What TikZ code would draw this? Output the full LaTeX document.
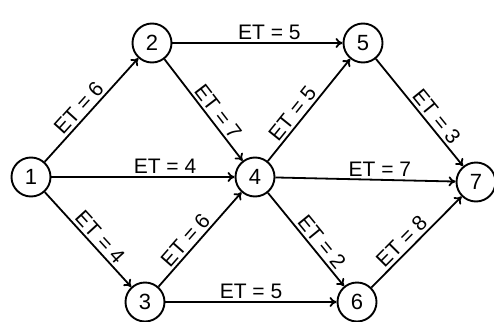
\documentclass[tikz,border=0pt]{standalone}
\usepackage{fontspec}
\setmainfont{Liberation Sans}
\usetikzlibrary{arrows.meta}
\begin{document}
\begin{tikzpicture}[x=1pt,y=-1pt,
  ev/.style={circle,draw,line width=1.9pt,minimum size=39pt,inner sep=0pt,font=\fontsize{22}{22}\selectfont},
  act/.style={line width=1.8pt,-{To[length=7pt,width=10pt]}},
  lab/.style={font=\fontsize{21}{21}\selectfont,inner sep=2.5pt}]
\useasboundingbox (0,0) rectangle (494,321);
\node[ev] (n1) at (31,177) {1};
\node[ev] (n2) at (152,43) {2};
\node[ev] (n3) at (145,302) {3};
\node[ev] (n4) at (255,177) {4};
\node[ev] (n5) at (363,43) {5};
\node[ev] (n6) at (357,302) {6};
\node[ev] (n7) at (476,182) {7};
\draw[act] (n1) -- node[lab,sloped,above,pos=0.45] {ET = 6} (n2);
\draw[act] (n1) -- node[lab,above,pos=0.62] {ET = 4} (n4);
\draw[act] (n1) -- node[lab,sloped,above,pos=0.55] {ET = 4} (n3);
\draw[act] (n2) -- node[lab,above,pos=0.57] {ET = 5} (n5);
\draw[act] (n2) -- node[lab,sloped,above,pos=0.58] {ET = 7} (n4);
\draw[act] (n3) -- node[lab,sloped,above,pos=0.42] {ET = 6} (n4);
\draw[act] (n3) -- node[lab,above,pos=0.5] {ET = 5} (n6);
\draw[act] (n4) -- node[lab,sloped,above,pos=0.4] {ET = 5} (n5);
\draw[act] (n4) -- node[lab,above,pos=0.58] {ET = 7} (n7);
\draw[act] (n4) -- node[lab,sloped,above,pos=0.6] {ET = 2} (n6);
\draw[act] (n5) -- node[lab,sloped,above,pos=0.6] {ET = 3} (n7);
\draw[act] (n6) -- node[lab,sloped,above,pos=0.42] {ET = 8} (n7);
\end{tikzpicture}
\end{document}
